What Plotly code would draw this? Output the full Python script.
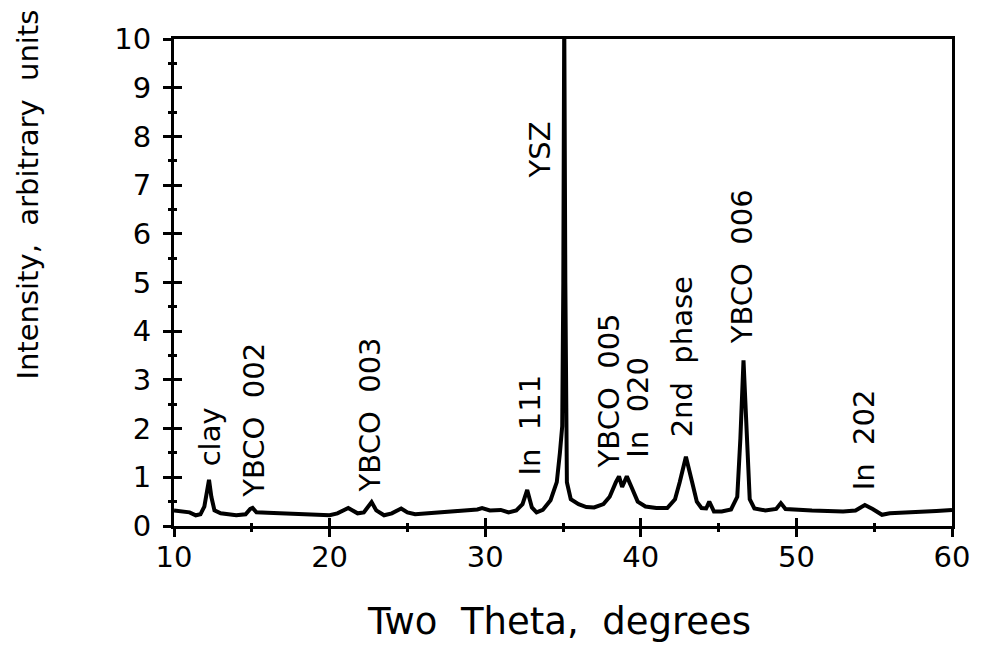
import plotly.graph_objects as go

# Diffraction pattern
two_theta = [10.0, 10.5, 11.0, 11.4, 11.7, 11.95, 12.1, 12.25, 12.4, 12.6, 13.0, 13.5, 14.0, 14.6,
             14.9, 15.05, 15.3, 16.0, 17.0, 18.0, 19.0, 20.0, 20.5, 21.2, 21.8, 22.2, 22.7, 23.0,
             23.5, 24.0, 24.6, 25.0, 25.5, 26.5, 27.5, 28.5, 29.5, 29.8, 30.3, 31.0, 31.5, 32.0,
             32.4, 32.7, 33.0, 33.3, 33.7, 34.2, 34.6, 34.8, 34.95, 35.02, 35.08, 35.15, 35.25,
             35.5, 36.0, 36.5, 37.0, 37.6, 38.0, 38.4, 38.6, 38.8, 39.1, 39.4, 39.8, 40.3, 41.0,
             41.7, 42.2, 42.5, 42.9, 43.3, 43.6, 43.9, 44.2, 44.4, 44.7, 45.2, 45.8, 46.2, 46.4,
             46.6, 46.8, 47.0, 47.3, 48.0, 48.7, 49.0, 49.3, 50.0, 51.0, 52.0, 53.0, 53.8, 54.4,
             54.9, 55.5, 56.0, 57.0, 58.0, 59.0, 60.0]
intensity = [0.32, 0.30, 0.28, 0.22, 0.24, 0.40, 0.75, 0.95, 0.60, 0.32, 0.26, 0.24, 0.22, 0.24,
             0.35, 0.37, 0.28, 0.27, 0.26, 0.25, 0.24, 0.22, 0.26, 0.37, 0.26, 0.28, 0.49, 0.32,
             0.22, 0.26, 0.36, 0.28, 0.24, 0.26, 0.28, 0.30, 0.34, 0.37, 0.32, 0.33, 0.28, 0.32,
             0.45, 0.74, 0.38, 0.28, 0.33, 0.53, 0.90, 1.50, 2.05, 5.0, 10.5, 5.0, 0.90,
             0.55, 0.45, 0.39, 0.38, 0.45, 0.60, 0.90, 1.02, 0.80, 1.02, 0.80, 0.50, 0.40, 0.37,
             0.37, 0.55, 0.90, 1.42, 0.90, 0.50, 0.37, 0.36, 0.50, 0.30, 0.30, 0.34, 0.60, 1.80,
             3.40, 1.90, 0.55, 0.36, 0.32, 0.35, 0.47, 0.35, 0.33, 0.32, 0.31, 0.30, 0.32, 0.43,
             0.35, 0.23, 0.26, 0.27, 0.29, 0.31, 0.33]

# Peak labels: text, x position, baseline (bottom) of rotated text in data units
label_text = ["clay", "YBCO  002", "YBCO  003", "In  111", "YSZ", "YBCO  005",
              "In  020", "2nd  phase", "YBCO  006", "In  202"]
label_x = [12.3, 15.15, 22.6, 32.9, 33.5, 37.95, 39.85, 42.65, 46.5, 54.4]
label_y = [1.19, 0.53, 0.64, 0.99, 7.1, 1.15, 1.36, 1.77, 3.70, 0.70]

x_ticks = [10, 20, 30, 40, 50, 60]
y_ticks = [0, 1, 2, 3, 4, 5, 6, 7, 8, 9, 10]

FONT = "DejaVu Sans"

fig = go.Figure()
fig.add_trace(go.Scatter(x=two_theta, y=intensity, mode="lines",
                         line=dict(color="black", width=4), showlegend=False))
# invisible trace to activate overlay axes
fig.add_trace(go.Scatter(x=[10], y=[0], xaxis="x2", yaxis="y2", mode="markers",
                         marker=dict(opacity=0), showlegend=False, hoverinfo="skip"))

for t, x, y in zip(label_text, label_x, label_y):
    fig.add_annotation(x=x, y=y, xref="x", yref="y", text=t, textangle=-90,
                       showarrow=False, xanchor="center", yanchor="bottom",
                       font=dict(family=FONT, size=29, color="black"))

fig.add_annotation(x=-0.188, y=0.68, xref="paper", yref="paper",
                   text="Intensity,  arbitrary  units", textangle=-90, showarrow=False,
                   xanchor="center", yanchor="middle",
                   font=dict(family=FONT, size=29, color="black"))
fig.add_annotation(x=0.495, y=-0.197, xref="paper", yref="paper",
                   text="Two  Theta,  degrees", showarrow=False,
                   xanchor="center", yanchor="middle",
                   font=dict(family=FONT, size=37, color="black"))

common_axis = dict(showgrid=False, zeroline=False, color="black")

fig.update_layout(
    width=974, height=641,
    margin=dict(l=166, r=24, t=31, b=123),
    paper_bgcolor="white", plot_bgcolor="white",
    font=dict(family=FONT, color="black"),
    xaxis=dict(range=[10, 60], tickvals=x_ticks, ticks="outside", ticklen=8, tickwidth=2.5,
               showline=True, linewidth=3, linecolor="black", mirror=True,
               tickfont=dict(family=FONT, size=29), ticklabelstandoff=-5,
               minor=dict(dtick=5, ticks="outside", ticklen=3, tickwidth=3, tickcolor="black"),
               **common_axis),
    yaxis=dict(range=[0, 10], tickvals=y_ticks, ticks="outside", ticklen=8, tickwidth=2.5,
               showline=True, linewidth=3, linecolor="black", mirror=True,
               tickfont=dict(family=FONT, size=29), ticklabelstandoff=6,
               minor=dict(dtick=0.5, ticks="outside", ticklen=3, tickwidth=3, tickcolor="black"),
               **common_axis),
    xaxis2=dict(range=[10, 60], overlaying="x", tickvals=x_ticks, ticks="inside", ticklen=8,
                tickwidth=2.5, showticklabels=False, showline=False,
                minor=dict(dtick=5, ticks="inside", ticklen=3, tickwidth=3, tickcolor="black"),
                **common_axis),
    yaxis2=dict(range=[0, 10], overlaying="y", tickvals=y_ticks, ticks="inside", ticklen=8,
                tickwidth=2.5, showticklabels=False, showline=False,
                minor=dict(dtick=0.5, ticks="inside", ticklen=3, tickwidth=3, tickcolor="black"),
                **common_axis),
)

fig.write_html("out.html")
